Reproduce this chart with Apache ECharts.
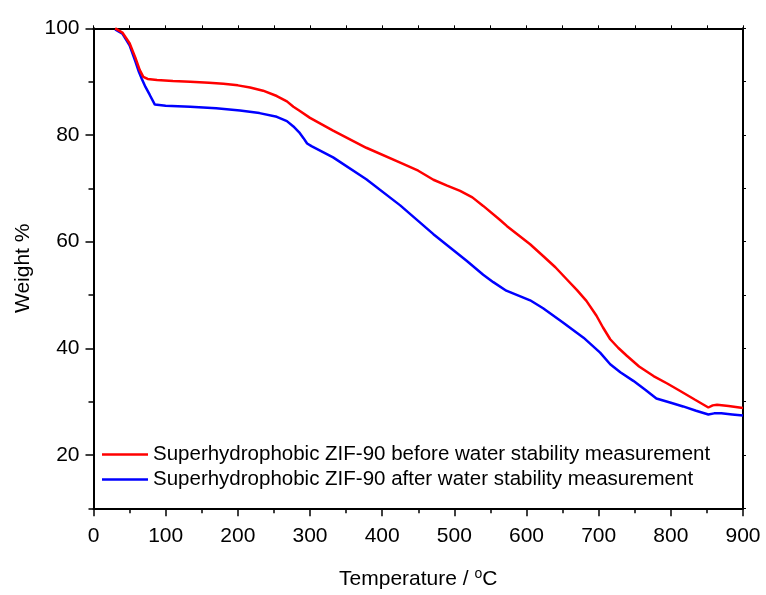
<!DOCTYPE html>
<html>
<head>
<meta charset="utf-8">
<script src="https://cdn.jsdelivr.net/npm/echarts@6/dist/echarts.min.js"></script>
<style>
html,body{margin:0;padding:0;background:#fff;}
#c{width:766px;height:595px;}
</style>
</head>
<body>
<div id="c"></div>
<script>
// Temperature (°C) / Weight (%) pairs
const beforeTemp = [30,40,50,58,64,69,75,88,110,134,160,180,200,217,235,254,268,277,286,300,332,378,425,450,471,490,508,525,540,563,573,605,623,640,656,670,683,697,706,716,727,739,756,776,795,813,833,852,858,864,880,900];
const beforeWeight = [100,99.2,97.2,94.5,92.2,90.9,90.5,90.3,90.1,90.0,89.8,89.6,89.3,88.9,88.3,87.3,86.3,85.3,84.5,83.2,80.8,77.6,74.8,73.3,71.6,70.5,69.5,68.3,66.7,64.1,62.9,59.5,57.3,55.2,52.9,50.9,48.9,46.1,43.9,41.7,40.1,38.6,36.6,34.8,33.4,32.0,30.4,28.9,29.3,29.4,29.2,28.8];
const afterTemp = [30,40,50,58,63,67,72,78,85,100,134,170,203,230,254,268,277,285,291,296,302,332,378,425,471,517,540,554,572,605,623,650,679,702,716,730,748,765,780,800,817,835,852,860,870,885,900];
const afterWeight = [99.8,99,96.8,93.8,91.8,90.5,89,87.5,85.7,85.5,85.3,85.0,84.6,84.1,83.4,82.6,81.6,80.5,79.4,78.4,77.9,75.8,71.7,66.8,61.4,56.4,53.8,52.4,50.8,49.0,47.5,44.9,42.0,39.2,37.0,35.5,33.9,32.2,30.6,29.8,29.1,28.3,27.6,27.8,27.8,27.6,27.4];
const seriesNames = ['Superhydrophobic ZIF-90 before water stability measurement','Superhydrophobic ZIF-90 after water stability measurement'];
const xTicks = [0,100,200,300,400,500,600,700,800,900];
const yLabelTicks = [20,40,60,80,100];

const FONT = "'Liberation Sans', Arial, sans-serif";
const pair = (xs, ys) => xs.map((x,i)=>[x, ys[i]]);

const chart = echarts.init(document.getElementById('c'), null, {renderer:'canvas'});
const axisLine = {show:true, lineStyle:{color:'#000', width:2}};
chart.setOption({
  animation:false,
  backgroundColor:'#fff',
  grid:{left:93.5, right:23, top:28.3, bottom:86.7, containLabel:false},
  legend:{
    orient:'vertical', left:97, top:439, itemWidth:46, itemHeight:2.5, itemGap:4,
    icon:'rect',
    textStyle:{fontFamily:FONT, fontSize:20.5, color:'#000', lineHeight:21},
    data:seriesNames
  },
  xAxis:[
    {type:'value', position:'bottom', min:0, max:900, interval:100,
     axisLine, splitLine:{show:false},
     axisTick:{show:true, inside:false, length:8, lineStyle:{color:'#000', width:1.5}},
     minorTick:{show:true, splitNumber:2, length:5, lineStyle:{color:'#000', width:1.5}},
     axisLabel:{fontFamily:FONT, fontSize:21, color:'#000', margin:17,
       customValues:xTicks},
     name:'Temperature / {s|o}C', nameLocation:'middle', nameGap:59,
     nameTextStyle:{fontFamily:FONT, fontSize:21, color:'#000',
       rich:{s:{fontFamily:FONT, fontSize:14, color:'#000', verticalAlign:'top', padding:[0,0,10,0]}}}
    },
    {type:'value', position:'top', min:0, max:900, interval:50,
     axisLine, splitLine:{show:false},
     axisTick:{show:true, inside:false, length:3, lineStyle:{color:'#000', width:1}},
     axisLabel:{show:false}}
  ],
  yAxis:[
    {type:'value', position:'left', min:10, max:100, interval:10,
     axisLine, splitLine:{show:false},
     axisTick:{show:true, inside:false, length:8, customValues:yLabelTicks, lineStyle:{color:'#000', width:1.5}},
     axisLabel:{fontFamily:FONT, fontSize:21, color:'#000', margin:14, customValues:yLabelTicks},
     name:'Weight %', nameLocation:'middle', nameRotate:90, nameGap:60,
     nameTextStyle:{fontFamily:FONT, fontSize:21, color:'#000'}
    },
    {type:'value', position:'left', min:10, max:100, interval:10, offset:0,
     axisLine:{show:false}, splitLine:{show:false},
     axisTick:{show:true, inside:false, length:5, lineStyle:{color:'#000', width:1.5}},
     axisLabel:{show:false}},
    {type:'value', position:'right', min:10, max:100, interval:10,
     axisLine, splitLine:{show:false},
     axisTick:{show:true, inside:false, length:3, lineStyle:{color:'#000', width:1}},
     axisLabel:{show:false}}
  ],
  series:[
    {name:seriesNames[0], type:'line', xAxisIndex:0, yAxisIndex:0, showSymbol:false, symbol:'none',
     lineStyle:{color:'#ff0000', width:2.5}, itemStyle:{color:'#ff0000'},
     data:pair(beforeTemp, beforeWeight), z:3},
    {name:seriesNames[1], type:'line', xAxisIndex:0, yAxisIndex:0, showSymbol:false, symbol:'none',
     lineStyle:{color:'#0000ff', width:2.5}, itemStyle:{color:'#0000ff'},
     data:pair(afterTemp, afterWeight), z:2}
  ]
});
</script>
</body>
</html>
